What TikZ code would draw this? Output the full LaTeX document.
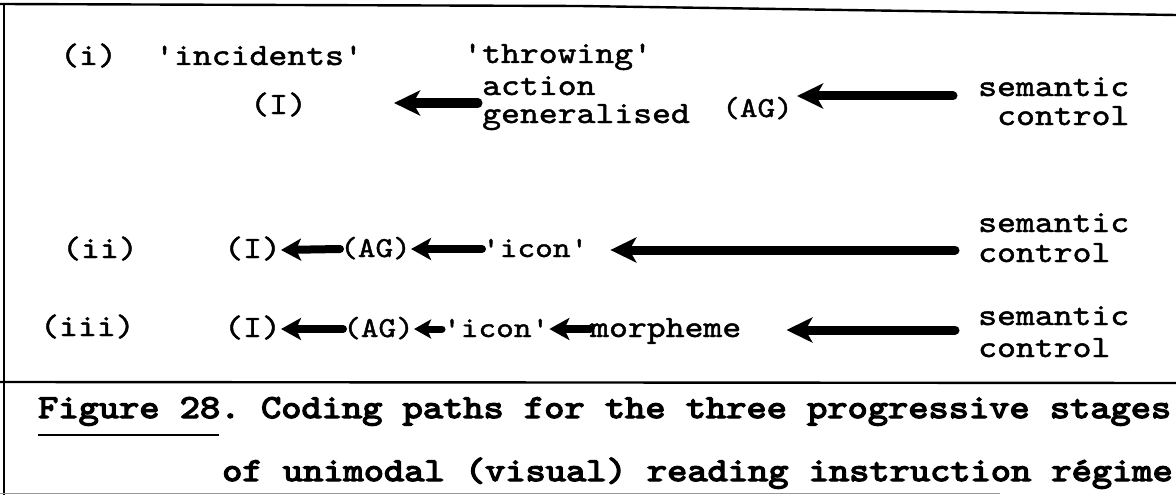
\documentclass[tikz,border=0pt]{standalone}
\usepackage{fontspec}
\usetikzlibrary{arrows.meta}
\newfontfamily\twfont{lmmono10-regular.otf}[FakeStretch=1.16,FakeBold=1.5]
\newfontfamily\capfont{lmmono10-regular.otf}[FakeStretch=1.15,FakeBold=4]
\tikzset{
  txt/.style={inner sep=0pt, anchor=base west, font=\twfont\fontsize{31}{30}\selectfont},
  smtxt/.style={txt, font=\twfont\fontsize{29}{30}\selectfont},
  row/.style={txt, text height=22pt, text depth=6pt},
  smrow/.style={smtxt, text height=22pt, text depth=6pt},
  captxt/.style={inner sep=0pt, anchor=base west, font=\capfont\fontsize{33.5}{44}\selectfont},
  bigarr/.style={line width=9pt, line cap=round, -{Stealth[length=26pt,width=25pt,inset=7pt]}},
  smarr/.style={line width=8pt, line cap=round, -{Stealth[length=20pt,width=22pt,inset=5pt]}},
  tinyarr/.style={line width=7pt, line cap=round, -{Stealth[length=17pt,width=19pt,inset=4pt]}},
  border/.style={line width=2.4pt}
}
\begin{document}
\begin{tikzpicture}[x=1pt,y=-1pt]
\useasboundingbox (0,0) rectangle (1176,495);
% frame
\draw[border] (0,4) -- (580,6) -- (1176,15);
\draw[line width=1.5pt] (4,5) -- (4,495);
\draw[border] (0,382) -- (1176,383);
\draw[line width=1pt, black!40] (0,493) -- (1000,493);

% row (i)
\node[txt] (r1) at (60,65) {(i)};
\node[txt] (inc) at (155,65) {'incidents'};
\node[row] (I1) at (250,114) {(I)};
\node[txt] (thr) at (463,63) {'throwing'};
\node[txt] (act) at (482,95) {action};
\node[txt] (gen) at (482,123) {generalised};
\node[smrow] (AG1) at (722,117) {(AG)};
\node[txt] (sem1) at (978,96) {semantic};
\node[txt] (con1) at (997,125) {control};
\coordinate (t1) at ([xshift=-4pt,yshift=-8pt]act.base west);
\draw[bigarr, shorten >=87pt] (t1) -- (I1.east |- t1);
\coordinate (t2) at ([xshift=-25pt]sem1.base west);
\draw[bigarr, shorten >=4pt] (t2) -- (AG1.east |- t2);

% row (ii)
\node[txt] (r2) at (62,258) {(ii)};
\node[row] (I2) at (224,258) {(I)};
\node[smrow] (AG2) at (340,257) {(AG)};
\node[smrow] (ic2) at (482,257) {'icon'};
\node[txt] (sem2) at (978,232) {semantic};
\node[txt] (con2) at (978,262) {control};
\draw[smarr] (AG2.west) -- (I2.east);
\draw[smarr] (ic2.west) -- (AG2.east);
\coordinate (t3) at ([xshift=-23pt,yshift=-18pt]sem2.base west);
\draw[bigarr, shorten >=22pt] (t3) -- (ic2.east |- t3);

% row (iii)
\node[txt] (r3) at (40,336) {(iii)};
\node[row] (I3) at (224,337) {(I)};
\node[smrow] (AG3) at (343,337) {(AG)};
\node[smrow] (ic3) at (443,337) {'icon'};
\node[row] (mor) at (590,337) {morpheme};
\node[txt] (sem3) at (978,325) {semantic};
\node[txt] (con3) at (978,357) {control};
\draw[smarr] (AG3.west) -- (I3.east);
\draw[tinyarr] ([xshift=-1pt]ic3.west) -- (AG3.east);
\draw[smarr] (mor.west) -- (ic3.east);
\coordinate (t4) at ([xshift=-23pt,yshift=-5pt]sem3.base west);
\draw[bigarr, shorten >=45pt] (t4) -- (mor.east |- t4);

% caption
\node[captxt] (fig) at (38,418) {Figure 28.};
\node[captxt] (cap1) at (fig.base east) {\ Coding paths for the three progressive stages};
\node[captxt] (cap2) at (222,481) {of unimodal (visual) reading instruction régime};
\draw[line width=2.5pt] ([yshift=-17pt]fig.base west) -- ([yshift=-17pt,xshift=-22pt]fig.base east);
\end{tikzpicture}
\end{document}
